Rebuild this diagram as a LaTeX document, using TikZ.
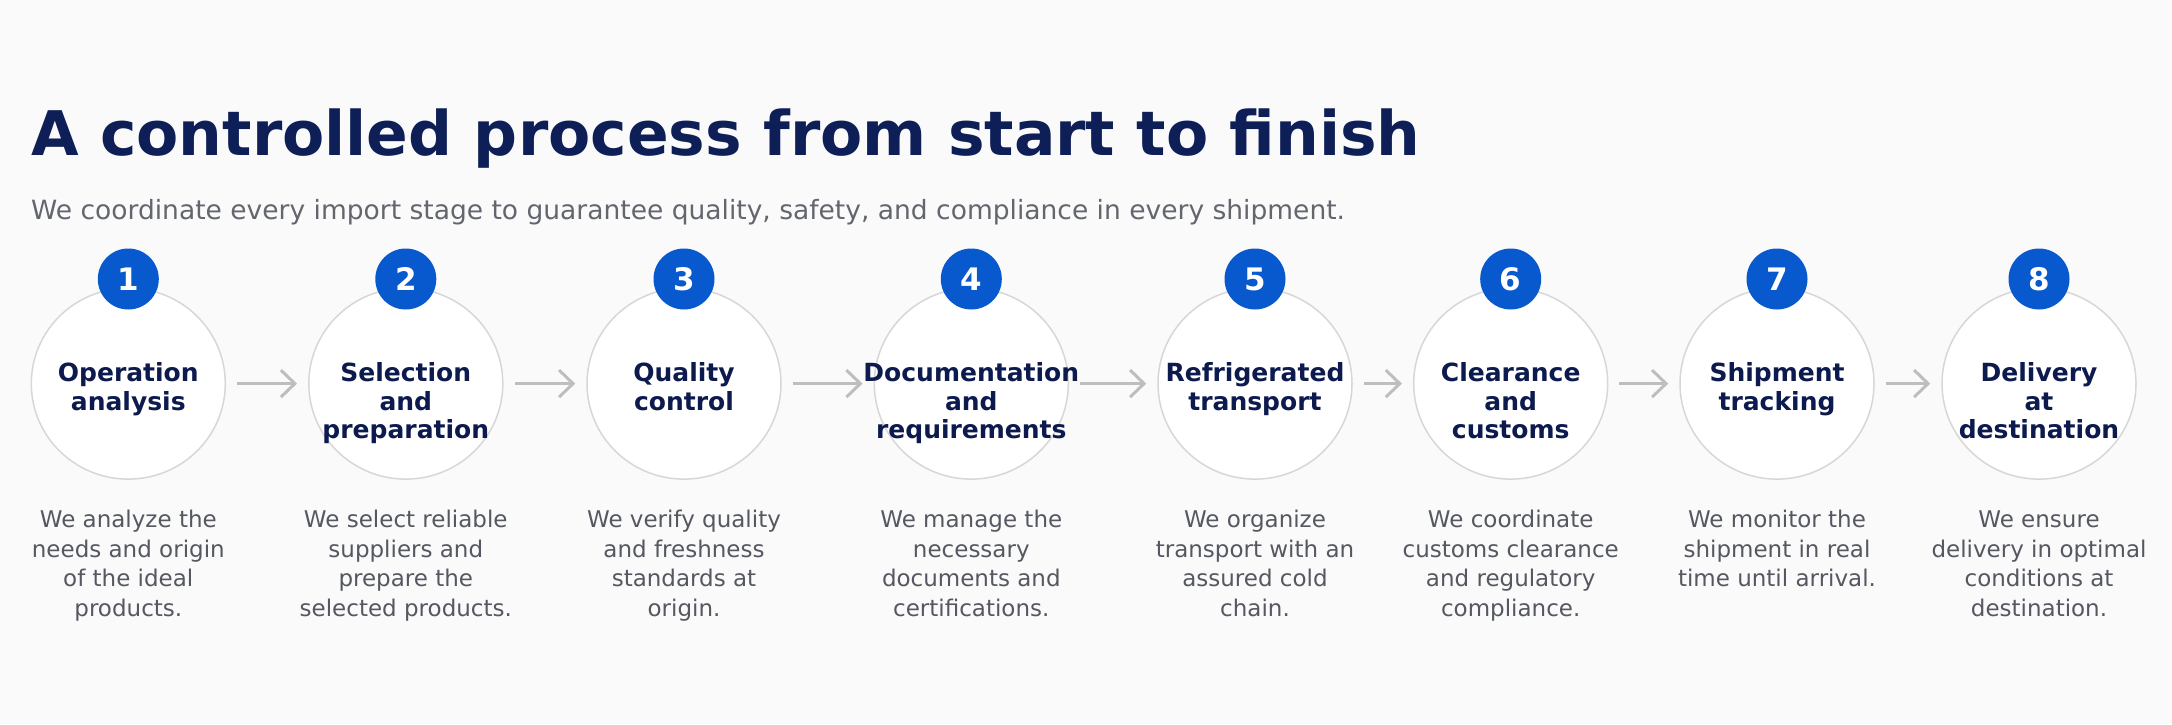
\documentclass[tikz,border=0pt]{standalone}
\usepackage{fontspec}
\setmainfont{DejaVu Sans}
\usetikzlibrary{arrows.meta,shapes.geometric}
\definecolor{bgc}{RGB}{250,250,251}
\definecolor{navyt}{RGB}{14,30,86}
\definecolor{navyl}{RGB}{12,26,78}
\definecolor{subc}{RGB}{100,102,110}
\definecolor{descc}{RGB}{85,88,96}
\definecolor{blueb}{RGB}{8,88,206}
\definecolor{ringc}{RGB}{215,215,215}
\definecolor{arrc}{RGB}{190,190,190}
\tikzset{
  titletext/.style={anchor=base west, inner sep=0pt, text=navyt, font=\fontsize{61.5}{70}\selectfont\bfseries},
  subtext/.style={anchor=base west, inner sep=0pt, text=subc, font=\fontsize{26.5}{30}\selectfont},
  ring/.style={ellipse, draw=ringc, line width=1.5pt, fill=white, minimum width=194pt, minimum height=191pt, inner sep=0pt},
  badge/.style={circle, fill=blueb, minimum size=61pt, inner sep=0pt, text=white, font=\fontsize{31}{31}\selectfont\bfseries},
  lbl/.style={anchor=base, align=center, inner sep=0pt, text=navyl, font=\fontsize{25}{28.3}\selectfont\bfseries},
  desc/.style={anchor=base, align=center, inner sep=0pt, text=descc, font=\fontsize{23}{29.5}\selectfont},
  arr/.style={draw=arrc, line width=3pt, -{Straight Barb[length=14pt,width=27pt]}},
}
\begin{document}
\begin{tikzpicture}[x=1pt,y=-1pt]
\useasboundingbox (0,0) rectangle (2172,724);
\fill[bgc] (0,0) rectangle (2172,724);
\node[titletext] (title) at (31,155) {A controlled process from start to finish};
\node[subtext] (sub) at (31,219.3) {We coordinate every import stage to guarantee quality, safety, and compliance in every shipment.};
% rings
\node[ring] (c1) at (128.3,383.6) {};
\node[ring] (c2) at (405.8,383.6) {};
\node[ring] (c3) at (684,383.6) {};
\node[ring] (c4) at (971.3,383.6) {};
\node[ring] (c5) at (1255,383.6) {};
\node[ring] (c6) at (1510.7,383.6) {};
\node[ring] (c7) at (1777,383.6) {};
\node[ring] (c8) at (2039,383.6) {};
% badges
\node[badge] (n1) at (128.3,279) {1};
\node[badge] (n2) at (405.8,279) {2};
\node[badge] (n3) at (684,279) {3};
\node[badge] (n4) at (971.3,279) {4};
\node[badge] (n5) at (1255,279) {5};
\node[badge] (n6) at (1510.7,279) {6};
\node[badge] (n7) at (1777,279) {7};
\node[badge] (n8) at (2039,279) {8};
% labels (base = last line baseline; first line baseline at 381.7)
\node[lbl] (l1) at (128.3,410) {Operation\\analysis};
\node[lbl] (l2) at (405.8,438.3) {Selection\\and\\preparation};
\node[lbl] (l3) at (684,410) {Quality\\control};
\node[lbl] (l4) at (971.3,438.3) {Documentation\\and\\requirements};
\node[lbl] (l5) at (1255,410) {Refrigerated\\transport};
\node[lbl] (l6) at (1510.7,438.3) {Clearance\\and\\customs};
\node[lbl] (l7) at (1777,410) {Shipment\\tracking};
\node[lbl] (l8) at (2039,438.3) {Delivery\\at\\destination};
% descriptions (first line baseline at 527.5)
\node[desc] (d1) at (128.3,616) {We analyze the\\needs and origin\\of the ideal\\products.};
\node[desc] (d2) at (405.8,616) {We select reliable\\suppliers and\\prepare the\\selected products.};
\node[desc] (d3) at (684,616) {We verify quality\\and freshness\\standards at\\origin.};
\node[desc] (d4) at (971.3,616) {We manage the\\necessary\\documents and\\certifications.};
\node[desc] (d5) at (1255,616) {We organize\\transport with an\\assured cold\\chain.};
\node[desc] (d6) at (1510.7,616) {We coordinate\\customs clearance\\and regulatory\\compliance.};
\node[desc] (d7) at (1777,586.5) {We monitor the\\shipment in real\\time until arrival.};
\node[desc] (d8) at (2039,616) {We ensure\\delivery in optimal\\conditions at\\destination.};
% arrows
\draw[arr] ([xshift=11pt]c1.east) -- ([xshift=-11pt]c2.west);
\draw[arr] ([xshift=11pt]c2.east) -- ([xshift=-11pt]c3.west);
\draw[arr] ([xshift=11pt]c3.east) -- ([xshift=-11pt]c4.west);
\draw[arr] ([xshift=11pt]c4.east) -- ([xshift=-11pt]c5.west);
\draw[arr] ([xshift=11pt]c5.east) -- ([xshift=-11pt]c6.west);
\draw[arr] ([xshift=11pt]c6.east) -- ([xshift=-11pt]c7.west);
\draw[arr] ([xshift=11pt]c7.east) -- ([xshift=-11pt]c8.west);
\end{tikzpicture}
\end{document}
